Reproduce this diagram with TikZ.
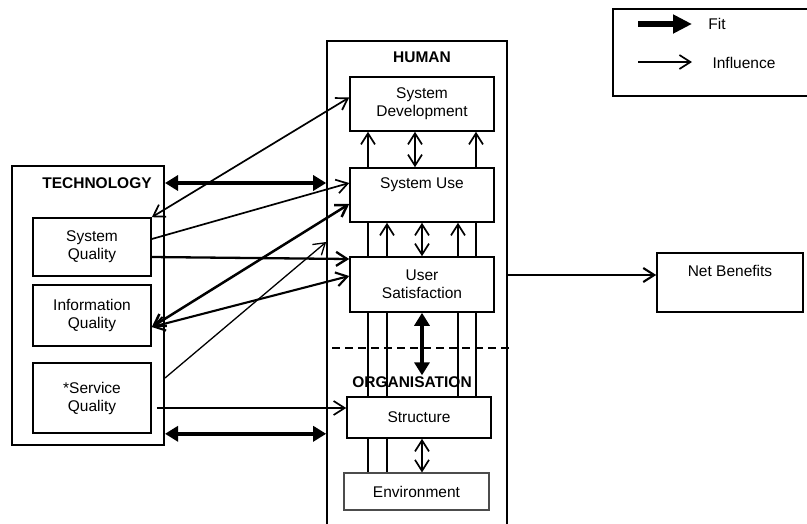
\documentclass[tikz,border=0pt]{standalone}
\usepackage{fontspec}
\setmainfont{Liberation Sans}
\usetikzlibrary{arrows.meta,positioning,backgrounds}

\begin{document}
\begin{tikzpicture}[x=1pt,y=-1pt,
        font=\fontsize{15.5}{18}\selectfont,
        box/.style={draw, line width=1.6pt, fill=white, align=center, inner sep=2pt},
        frame/.style={draw, line width=1.6pt},
        infl/.style={line width=1.7pt, -{Straight Barb[length=11pt,width=14pt]}},
        infltwo/.style={line width=1.7pt, {Straight Barb[length=11pt,width=14pt]}-{Straight Barb[length=11pt,width=14pt]}},
        fitarr/.style={line width=4pt, {Triangle[length=13pt,width=15pt]}-{Triangle[length=13pt,width=15pt]}}]

        \useasboundingbox (0,0) rectangle (807,523);

        % technology side
        \node[frame, line width=2pt, minimum width=152pt, minimum height=279pt] (tech) at (88,305.5) {};
        \node (techlbl) at (97,183) {\bfseries TECHNOLOGY};
        \node[box, minimum width=118pt, minimum height=58pt] (sysq) at (92,247) {System\\Quality};
        \node[box, minimum width=118pt, minimum height=61pt] (infoq) at (92,315.5) {Information\\Quality};
        \node[box, minimum width=118pt, minimum height=70pt] (servq) at (92,398) {*Service\\Quality};

        % human and organisation side
        \node[frame, minimum width=180pt, minimum height=489pt] (human) at (417,285.5) {};
        \node (humanlbl) at (422,57) {\bfseries HUMAN};
        \node[box, minimum width=144pt, minimum height=54pt] (sysdev) at (422,104) {System\\Development};
        \node[box, minimum width=144pt, minimum height=54pt] (sysuse) at (422,195) {System Use\\\strut};
        \node[box, minimum width=144pt, minimum height=55pt] (usersat) at (422,284.5) {User\\Satisfaction};
        \node[inner sep=1pt] (orglbl) at (412,382) {\bfseries ORGANISATION};
        \node[box, minimum width=144pt, minimum height=41pt] (struct) at (419,417.5) {Structure};
        \node[box, draw=black!70, line width=1.1pt, minimum width=145pt, minimum height=37pt] (env) at (416.5,491.5) {Environment};
        \draw[dashed, line width=1.5pt, dash pattern=on 8pt off 5pt] (332,348) -- (510,348);

        \node[box, minimum width=146pt, minimum height=59pt] (netb) at (730,282.5) {Net Benefits\\\strut};

        % legend
        \node[frame, line width=1.5pt, minimum width=202pt, minimum height=87pt] (legend) at (714,52.5) {};
        \node (fitlbl) at (717,24) {Fit};
        \node (infllbl) at (744,63) {Influence};
        \coordinate (fitfrom) at (638,24);
        \coordinate (fitto) at (692,24);
        \coordinate (inflfrom) at (638,62);
        \coordinate (inflto) at (692,62);
        \draw[line width=5.5pt, -{Triangle[length=19pt,width=18pt]}] (fitfrom) -- (fitto);
        \draw[infl] (inflfrom) -- (inflto);

        % vertical links behind the boxes
        \coordinate (l1) at ([xshift=-54pt]sysdev.south);
        \coordinate (l2) at ([xshift=-35pt]sysuse.south);
        \coordinate (l3) at ([xshift=36pt]sysuse.south);
        \coordinate (l4) at ([xshift=54pt]sysdev.south);
        \begin{pgfonlayer}{background}
            \draw[infl] (l1 |- env.north) -- (l1);
            \draw[infl] (l2 |- env.north) -- (l2);
            \draw[infl] (l3 |- struct.north) -- (l3);
            \draw[infl] (l4 |- struct.north) -- (l4);
        \end{pgfonlayer}

        \draw[infltwo] ([xshift=-7pt]sysdev.south) -- ([xshift=-7pt]sysuse.north);
        \draw[infltwo] (sysuse.south) -- (usersat.north);
        \draw[fitarr] (usersat.south) -- (usersat.south |- orglbl.north);
        \draw[infltwo] (struct.south -| usersat.south) -- (env.north -| usersat.south);

        % fit between the two sides
        \draw[fitarr] (tech.east |- techlbl) -- (human.west |- techlbl);
        \draw[fitarr] (tech.east |- servq.south) -- (human.west |- servq.south);

        % influences
        \coordinate (techout) at ([yshift=-72.5pt]tech.east);
        \coordinate (humanin) at ([yshift=43.5pt]human.west);
        \draw[infltwo] ([yshift=6.5pt]sysdev.west) -- (sysq.north east);
        \draw[infl] ([yshift=8pt]sysq.east) -- ([yshift=12pt]sysuse.west);
        \draw[infl, line width=2.3pt] ([yshift=-10pt]sysq.east) -- ([yshift=25.5pt]usersat.west);
        \draw[infltwo, line width=2.5pt] ([yshift=-11.5pt]infoq.east) -- ([yshift=-9pt]sysuse.west);
        \draw[infltwo, line width=2.1pt] ([yshift=-11.5pt]infoq.east) -- ([yshift=8.5pt]usersat.west);
        \draw[infl, line width=1.3pt] (techout) -- (humanin);
        \draw[infl] ([xshift=5pt,yshift=-10pt]servq.east) -- ([yshift=9.5pt]struct.west);

        \coordinate (nbin) at ([yshift=7.5pt]netb.west);
        \draw[infl, line width=2.1pt] (human.east |- nbin) -- (nbin);
    \end{tikzpicture}
\end{document}
